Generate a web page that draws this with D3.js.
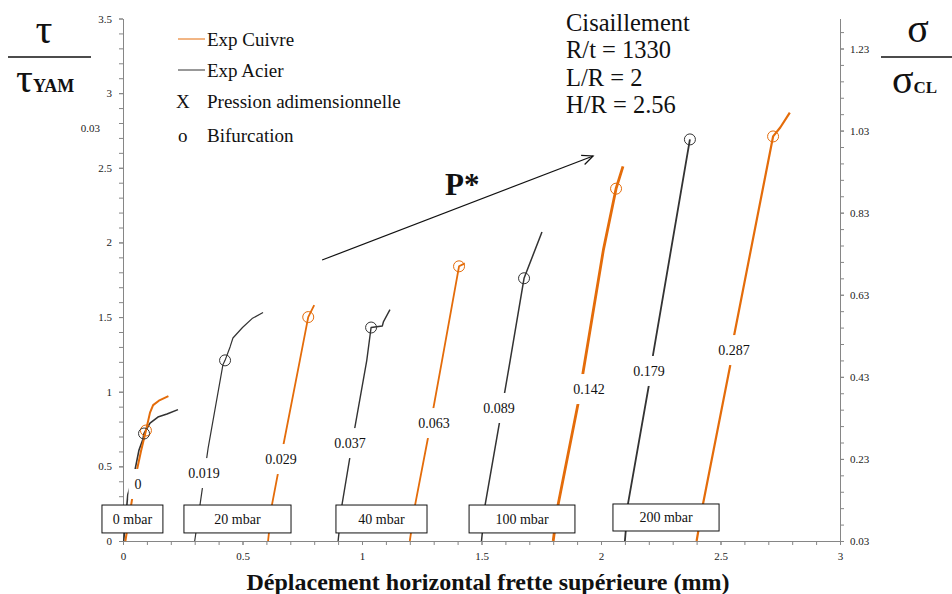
<!DOCTYPE html>
<html><head><meta charset="utf-8">
<script src="https://cdn.jsdelivr.net/npm/d3@7"></script>
<style>
body{margin:0;background:#fff;}
svg text{font-family:"Liberation Serif","Times New Roman",serif !important;}
</style></head>
<body>
<script>
// ---------- data ----------
const xTicks = [0, 0.5, 1, 1.5, 2, 2.5, 3];
const yTicks = [0, 0.5, 1, 1.5, 2, 2.5, 3, 3.5];
const y2Ticks = [0.03, 0.23, 0.43, 0.63, 0.83, 1.03, 1.23];

// Exp Cuivre (orange) curves: [displacement mm, tau/tauYAM]
const cuivre0 = [[0.01,0],[0.035,0.25],[0.055,0.45],[0.075,0.6],[0.096,0.74],[0.113,0.86],[0.126,0.91],[0.15,0.94],[0.19,0.97]];
const cuivre20 = [[0.607,0],[0.623,0.24],[0.673,0.66],[0.74,1.21],[0.775,1.50],[0.80,1.58]];
const cuivre40 = [[1.20,0],[1.222,0.24],[1.276,0.69],[1.335,1.21],[1.406,1.84],[1.43,1.86]];
const cuivre100 = [[1.80,0],[1.82,0.24],[1.904,0.92],[1.925,1.13],[2.01,1.95],[2.063,2.36],[2.092,2.51]];
const cuivre200 = [[2.40,0],[2.427,0.25],[2.54,1.17],[2.556,1.37],[2.72,2.71],[2.75,2.77],[2.79,2.87]];

// Exp Acier (black) curves
const acier0 = [[0.003,0],[0.02,0.31],[0.05,0.475],[0.067,0.61],[0.083,0.68],[0.088,0.72],[0.113,0.79],[0.146,0.83],[0.184,0.85],[0.23,0.88]];
const acier20 = [[0.30,0],[0.322,0.24],[0.356,0.62],[0.418,1.18],[0.427,1.21],[0.448,1.30],[0.46,1.36],[0.50,1.43],[0.54,1.49],[0.586,1.53]];
const acier40 = [[0.90,0],[0.916,0.24],[0.97,0.76],[1.02,1.21],[1.038,1.43],[1.085,1.44],[1.09,1.47],[1.117,1.55]];
const acier100 = [[1.50,0],[1.515,0.24],[1.577,0.81],[1.62,1.21],[1.678,1.76],[1.753,2.07]];
const acier200 = [[2.10,0],[2.113,0.25],[2.20,1.04],[2.218,1.25],[2.372,2.69]];

// Bifurcation points
const bifCuivre = [[0.096,0.74],[0.775,1.50],[1.406,1.84],[2.063,2.36],[2.72,2.71]];
const bifAcier = [[0.088,0.72],[0.427,1.21],[1.038,1.43],[1.678,1.76],[2.372,2.69]];

// Pression adimensionnelle labels
const pLabels = ["0","0.019","0.029","0.037","0.063","0.089","0.142","0.179","0.287"];
const pLabelX = [0.063,0.339,0.661,0.950,1.301,1.573,1.950,2.201,2.556];
const pLabelY = [0.382,0.455,0.549,0.656,0.790,0.891,1.018,1.139,1.279];

// Pressure boxes
const boxLabels = ["0 mbar","20 mbar","40 mbar","100 mbar","200 mbar"];
const boxX0 = [-0.088,0.255,0.891,1.448,2.050];
const boxX1 = [0.167,0.703,1.272,1.891,2.494];
const boxYTop = [0.241,0.241,0.241,0.241,0.248];
const boxYBot = [0.054,0.054,0.054,0.054,0.067];

const infoLines = ["Cisaillement","R/t = 1330","L/R = 2","H/R = 2.56"];

// ---------- drawing ----------
const W = 952, H = 594;
const FONT = "'Liberation Serif', 'Times New Roman', serif";
const orange = "#E46C0A", dark = "#333333", axisCol = "#868686";
const svg = d3.select("body").append("svg").attr("width", W).attr("height", H)
  .attr("font-family", FONT);

const x = d3.scaleLinear().domain([0, 3]).range([123, 840]);
const y = d3.scaleLinear().domain([0, 3.5]).range([541, 18.5]);
// right axis: 0.03 at bottom, 1.23 at pixel 48.5
const y2b = d3.scaleLinear().domain([0.03, 1.23]).range([541, 48.5]);
const y2Top = y2b.invert(18.5);
const yR = d3.scaleLinear().domain([0.03, y2Top]).range([541, 18.5]);

function styleAxis(g){
  g.attr("font-family", FONT);
  g.select(".domain").attr("stroke", axisCol).attr("stroke-width", 1);
  g.selectAll(".tick line").attr("stroke", axisCol);
  g.selectAll(".tick text").attr("fill", "#222").style("font-family", FONT).style("font-size", "11px");
}

// minor ticks
svg.append("g").attr("transform", "translate(0,541)")
  .call(d3.axisBottom(x).tickValues(d3.range(0, 3.0001, 0.1)).tickFormat("").tickSize(4).tickSizeOuter(0)).call(styleAxis);
svg.append("g").attr("transform", "translate(123,0)")
  .call(d3.axisLeft(y).tickValues(d3.range(0, 3.5001, 0.1)).tickFormat("").tickSize(4).tickSizeOuter(0)).call(styleAxis);
svg.append("g").attr("transform", "translate(840,0)")
  .call(d3.axisRight(yR).tickValues(d3.range(0.03, y2Top, 0.04)).tickFormat("").tickSize(4).tickSizeOuter(0)).call(styleAxis);
// major ticks
svg.append("g").attr("transform", "translate(0,541)")
  .call(d3.axisBottom(x).tickValues(xTicks).tickFormat(d3.format("")).tickSize(4).tickPadding(7).tickSizeOuter(0)).call(styleAxis);
svg.append("g").attr("transform", "translate(123,0)")
  .call(d3.axisLeft(y).tickValues(yTicks).tickFormat(d3.format("")).tickSize(4).tickPadding(7).tickSizeOuter(0)).call(styleAxis);
svg.append("g").attr("transform", "translate(840,0)")
  .call(d3.axisRight(yR).tickValues(y2Ticks).tickFormat(d3.format(".2f")).tickSize(4).tickPadding(6).tickSizeOuter(0)).call(styleAxis);

function txt(parent){ return parent.append("text").style("font-family", FONT); }

// stray label
txt(svg).attr("x", 100).attr("y", 132).attr("text-anchor", "end")
  .style("font-size", "11px").attr("fill", "#222").text("0.03");

// curves
const line = d3.line().x(d => x(d[0])).y(d => y(d[1]));
const cuivre = [cuivre0, cuivre20, cuivre40, cuivre100, cuivre200];
const acier = [acier0, acier20, acier40, acier100, acier200];
const cuW = [2, 1.8, 1.8, 2.8, 2.2];
const acW = [1.6, 1.2, 1.4, 1.5, 1.8];
acier.forEach((s, i) => svg.append("path").datum(s).attr("d", line)
  .attr("fill", "none").attr("stroke", dark).attr("stroke-width", acW[i]).attr("stroke-linejoin", "round"));
cuivre.forEach((s, i) => svg.append("path").datum(s).attr("d", line)
  .attr("fill", "none").attr("stroke", orange).attr("stroke-width", cuW[i]).attr("stroke-linejoin", "round"));

// bifurcation circles
svg.selectAll("circle.bc").data(bifCuivre).join("circle").attr("class", "bc")
  .attr("cx", d => x(d[0])).attr("cy", d => y(d[1])).attr("r", 5.5)
  .attr("fill", "none").attr("stroke", orange).attr("stroke-width", 1);
svg.selectAll("circle.ba").data(bifAcier).join("circle").attr("class", "ba")
  .attr("cx", d => x(d[0])).attr("cy", d => y(d[1])).attr("r", 5.5)
  .attr("fill", "none").attr("stroke", dark).attr("stroke-width", 1);

// pressure labels with white background
pLabels.forEach((t, i) => {
  const g = svg.append("g");
  const rect = g.append("rect").attr("fill", "#fff");
  const tx = txt(g).attr("x", x(pLabelX[i])).attr("y", y(pLabelY[i]) + 5)
    .attr("text-anchor", "middle").style("font-size", "14px").attr("fill", "#111").text(t);
  const w = tx.node().getComputedTextLength();
  rect.attr("x", x(pLabelX[i]) - w / 2 - 6).attr("y", y(pLabelY[i]) - 15).attr("width", w + 12).attr("height", 30);
});

// pressure boxes
boxLabels.forEach((t, i) => {
  const x0 = x(boxX0[i]), x1 = x(boxX1[i]), yt = y(boxYTop[i]), yb = y(boxYBot[i]);
  svg.append("rect").attr("x", x0).attr("y", yt).attr("width", x1 - x0).attr("height", yb - yt)
    .attr("fill", "#fff").attr("stroke", "#111").attr("stroke-width", 1);
  txt(svg).attr("x", (x0 + x1) / 2).attr("y", (yt + yb) / 2 + 5).attr("text-anchor", "middle")
    .style("font-size", "14px").attr("fill", "#111").text(t);
});

// arrow P*
const ax0 = x(0.833), ay0 = y(1.882), ax1 = x(1.967), ay1 = y(2.579);
svg.append("line").attr("x1", ax0).attr("y1", ay0).attr("x2", ax1).attr("y2", ay1).attr("stroke", "#111").attr("stroke-width", 1.2);
const ang = Math.atan2(ay1 - ay0, ax1 - ax0);
const hl = 12, ha = 0.42;
svg.append("path").attr("d",
  `M${ax1 - hl*Math.cos(ang - ha)},${ay1 - hl*Math.sin(ang - ha)}L${ax1},${ay1}L${ax1 - hl*Math.cos(ang + ha)},${ay1 - hl*Math.sin(ang + ha)}`)
  .attr("fill", "none").attr("stroke", "#111").attr("stroke-width", 1.2);
txt(svg).attr("x", 445).attr("y", 195).style("font-size", "31px").style("font-weight", "bold").attr("fill", "#111").text("P*");

// info text
infoLines.forEach((t, i) => txt(svg).attr("x", 566).attr("y", 31 + i * 27.3)
  .style("font-size", "24.5px").attr("fill", "#111").text(t));

// legend
svg.append("line").attr("x1", 178).attr("x2", 205).attr("y1", 39).attr("y2", 39).attr("stroke", orange).attr("stroke-width", 1);
svg.append("line").attr("x1", 178).attr("x2", 205).attr("y1", 70).attr("y2", 70).attr("stroke", dark).attr("stroke-width", 1);
const legTexts = [["Exp Cuivre", 46], ["Exp Acier", 77], ["Pression adimensionnelle", 108], ["Bifurcation", 142]];
legTexts.forEach(d => txt(svg).attr("x", 207).attr("y", d[1]).style("font-size", "19px").attr("fill", "#111").text(d[0]));
txt(svg).attr("x", 176).attr("y", 108).style("font-size", "19px").attr("fill", "#111").text("X");
txt(svg).attr("x", 178).attr("y", 142).style("font-size", "19px").attr("fill", "#111").text("o");

// x axis title
txt(svg).attr("x", 488).attr("y", 590).attr("text-anchor", "middle")
  .style("font-size", "24px").style("font-weight", "bold").attr("fill", "#111")
  .text("Déplacement horizontal frette supérieure (mm)");

// left y title
txt(svg).attr("x", 44).attr("y", 43).attr("text-anchor", "middle")
  .style("font-size", "42px").attr("fill", "#111").text("τ");
svg.append("line").attr("x1", 8).attr("x2", 91).attr("y1", 57).attr("y2", 57).attr("stroke", "#111").attr("stroke-width", 1.5);
const tl = txt(svg).attr("x", 16).attr("y", 92).attr("fill", "#111");
tl.append("tspan").style("font-size", "42px").text("τ");
tl.append("tspan").style("font-size", "18px").style("font-weight", "bold").text("YAM");

// right y title
txt(svg).attr("x", 918).attr("y", 42).attr("text-anchor", "middle")
  .style("font-size", "40px").attr("fill", "#111").text("σ");
svg.append("line").attr("x1", 881).attr("x2", 952).attr("y1", 57).attr("y2", 57).attr("stroke", "#111").attr("stroke-width", 1.5);
const tr = txt(svg).attr("x", 892).attr("y", 93).attr("fill", "#111");
tr.append("tspan").style("font-size", "40px").text("σ");
tr.append("tspan").style("font-size", "17px").style("font-weight", "bold").text("CL");
</script>
</body></html>
